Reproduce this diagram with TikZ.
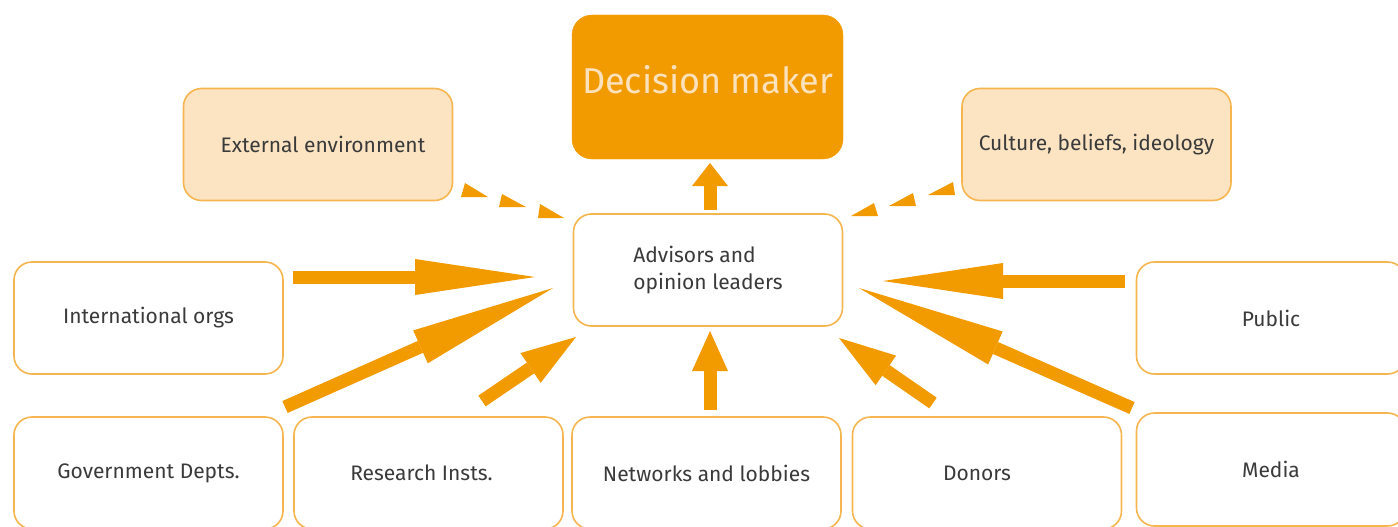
\documentclass[tikz,border=0pt]{standalone}
\usepackage{fontspec}
\setmainfont{Fira Sans}
\usetikzlibrary{arrows.meta}
\definecolor{orangeC}{HTML}{F29B00}
\definecolor{lightC}{HTML}{FCE4C3}
\definecolor{borderC}{HTML}{F6B54E}
\definecolor{textC}{HTML}{3A3A3A}
\definecolor{dmText}{HTML}{FBE2BC}
\tikzset{
  box/.style={draw=borderC, line width=1.6pt, rounded corners=18pt, fill=white,
    minimum width=269pt, minimum height=112pt, inner sep=0pt, text=textC,
    font=\fontsize{21}{27}\selectfont},
  lightbox/.style={box, fill=lightC},
  blockarrow/.style={draw=orangeC, line width=13pt, line cap=butt,
    -{Triangle[length=#1, width=36pt, line width=0pt]}},
  dashtri/.style={fill=orangeC}
}
\begin{document}
\begin{tikzpicture}[x=1pt,y=-1pt]
\useasboundingbox (0,0) rectangle (1398,527);
\clip (0,0) rectangle (1398,527);

% boxes
\node[draw=orangeC, fill=orangeC, rounded corners=20pt, minimum width=271pt, minimum height=144pt,
  inner sep=0pt, label={[text=dmText, font=\fontsize{36}{40}\selectfont, yshift=7pt]center:Decision maker}]
  (dm) at (707.5,87) {};
\node[lightbox] (ext) at (318,144.5) {External environment\hspace*{-10pt}};
\node[lightbox] (cul) at (1096.5,144.5) {Culture, beliefs, ideology};
\node[box, align=left] (adv) at (708,270) {Advisors and\\opinion leaders};
\node[box] (intl) at (148.5,318) {International orgs};
\node[box] (pub) at (1271,318) {Public};
\node[box] (gov) at (148.5,473) {Government Depts.};
\node[box] (res) at (428.5,473) {Research Insts.\hspace*{14pt}};
\node[box] (net) at (706.5,473) {Networks and lobbies};
\node[box] (don) at (987,473) {Donors\hspace*{20pt}};
\node[box, minimum height=113pt] (med) at (1271,469.5) {Media};

% arrow end points
\coordinate (intlT) at (293,277);   \coordinate (intlH) at (535,277);
\coordinate (govT) at (285,407);    \coordinate (govH) at (553,288);
\coordinate (resT) at (482,401);    \coordinate (resH) at (576,337);
\coordinate (netT) at (710,410);    \coordinate (netH) at (710,331);
\coordinate (donT) at (933,403);    \coordinate (donH) at (839,338);
\coordinate (medT) at (1132,408);   \coordinate (medH) at (859,288);
\coordinate (pubT) at (1125,281);   \coordinate (pubH) at (883,281);
\coordinate (advT) at (710,210);    \coordinate (advH) at (710,163);

\draw[blockarrow=120pt] (intlT) -- (intlH);
\draw[blockarrow=145pt] (govT) -- (govH);
\draw[blockarrow=55pt] (resT) -- (resH);
\draw[blockarrow=40pt] (netT) -- (netH);
\draw[blockarrow=57pt] (donT) -- (donH);
\draw[blockarrow=149pt] (medT) -- (medH);
\draw[blockarrow=120pt] (pubT) -- (pubH);
\draw[blockarrow=23pt] (advT) -- (advH);

% dashed influence (left)
\fill[dashtri] (465,183) -- (461,197) -- (488,197) -- cycle;
\fill[dashtri] (502,194) -- (499,207) -- (526,207) -- cycle;
\fill[dashtri] (540,204) -- (538,218) -- (564,218) -- cycle;
% dashed influence (right)
\fill[dashtri] (953,182) -- (955,195) -- (928,195) -- cycle;
\fill[dashtri] (913,193) -- (916,206) -- (889,206) -- cycle;
\fill[dashtri] (874,203) -- (878,216) -- (851,216) -- cycle;
\end{tikzpicture}
\end{document}
